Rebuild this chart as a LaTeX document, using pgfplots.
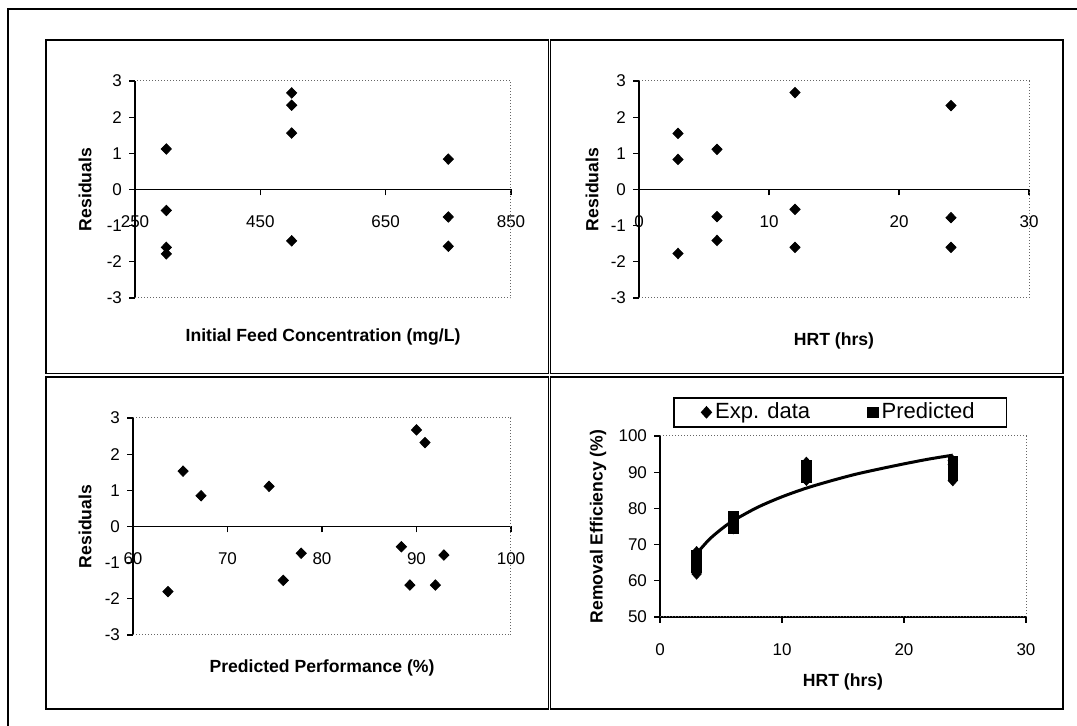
\documentclass[border=0pt]{standalone}
\usepackage{fontspec}
\setmainfont{Liberation Sans}
\usepackage{pgfplots}
\pgfplotsset{compat=1.18}

% 1 px of the reference = 0.5pt
\pgfplotsset{
  excel/.style={
    scale only axis,
    axis line style={line width=0.8pt},
    tick align=outside, major tick length=3pt,
    tick style={black, line width=0.6pt},
    hide obscured x ticks=false, hide obscured y ticks=false,
    /pgf/number format/assume math mode=true,
    ticklabel style={font=\fontsize{8.5}{9}\selectfont},
    clip=false,
  },
  resid/.style={
    excel, axis x line*=middle, axis y line*=left,
    ymin=-3, ymax=3, ytick={-3,-2,-1,0,1,2,3},
    xticklabel style={yshift=-6.5pt},
    height=108.5pt,
  },
  dia/.style={only marks, mark=diamond*, mark size=2.6pt, mark options={xscale=1.3, black}},
}
\newcommand{\plotframe}{\draw[black!60, densely dotted, line width=0.5pt]
  (rel axis cs:0,0) -- (rel axis cs:1,0) -- (rel axis cs:1,1) -- (rel axis cs:0,1);}
\tikzset{lab/.style={font=\fontsize{8.8}{10}\selectfont\bfseries}}

\begin{document}
\begin{tikzpicture}
\useasboundingbox (0,0) rectangle (538.5pt,363pt);

% frames
\draw[line width=0.8pt] (4pt,0) -- (4pt,358.5pt) -- (545pt,358.5pt);
\draw[line width=0.9pt] (23pt,176.25pt) rectangle (274.25pt,343pt);
\draw[line width=0.9pt] (275.25pt,176.25pt) rectangle (531.5pt,343pt);
\draw[line width=0.9pt] (23pt,8.5pt) rectangle (274.25pt,174.5pt);
\draw[line width=0.9pt] (275.25pt,8.5pt) rectangle (531.5pt,174.5pt);

% residuals vs feed concentration
\begin{axis}[resid, at={(67.5pt,214pt)}, anchor=south west, width=188pt,
  xmin=250, xmax=850, xtick={250,450,650,850}]
\plotframe
\addplot[dia] coordinates {
(300,1.12)(300,-0.58)(300,-1.60)(300,-1.78)
(500,2.67)(500,2.33)(500,1.56)(500,-1.42)
(750,0.84)(750,-0.76)(750,-1.57)
};
\end{axis}
\node[lab, rotate=90] at (42.5pt,268.25pt) {Residuals};
\node[lab] at (161.5pt,194.5pt) {Initial Feed Concentration (mg/L)};

% residuals vs HRT
\begin{axis}[resid, at={(319.5pt,214pt)}, anchor=south west, width=195pt,
  xmin=0, xmax=30, xtick={0,10,20,30}]
\plotframe
\addplot[dia] coordinates {
(3,1.55)(3,0.83)(3,-1.77)
(6,1.11)(6,-0.75)(6,-1.41)
(12,2.68)(12,-0.55)(12,-1.60)
(24,2.32)(24,-0.78)(24,-1.60)
};
\end{axis}
\node[lab, rotate=90] at (296pt,268.25pt) {Residuals};
\node[lab] at (417pt,192.5pt) {HRT (hrs)};

% residuals vs predicted performance
\begin{axis}[resid, at={(66.5pt,45.5pt)}, anchor=south west, width=189pt,
  xmin=60, xmax=100, xtick={60,70,80,90,100}]
\plotframe
\addplot[dia] coordinates {
(65.3,1.53)(67.2,0.85)(74.4,1.11)(63.7,-1.80)(75.9,-1.49)(77.8,-0.74)
(88.4,-0.56)(89.3,-1.62)(90.0,2.67)(90.9,2.32)(92.0,-1.62)(92.9,-0.79)
};
\end{axis}
\node[lab, rotate=90] at (42.5pt,99.75pt) {Residuals};
\node[lab] at (161pt,29pt) {Predicted Performance (\%)};

% removal efficiency vs HRT
\begin{axis}[excel, at={(330pt,54.5pt)}, anchor=south west, width=183pt, height=90.5pt,
  axis x line*=bottom, axis y line*=left,
  xmin=0, xmax=30, xtick={0,10,20,30},
  ymin=50, ymax=100, ytick={50,60,70,80,90,100},
  xticklabel style={yshift=-7pt},
  legend columns=2,
  legend image code/.code={\draw[#1] plot coordinates {(0pt,0pt)};},
  legend style={at={(axis description cs:0.0355,1.215)}, anchor=north west,
    draw=black, line width=0.8pt, font=\fontsize{11}{12}\selectfont,
    inner xsep=14pt, inner ysep=0.5pt,
    /tikz/every even column/.append style={column sep=27pt}},
  ]
\plotframe
\addplot[black, line width=1.5pt, smooth, forget plot] coordinates {
(3,67.5)(4,71.3)(5,74.2)(6,76.6)(8,80.3)(10,83.2)(12,85.6)
(14,87.6)(16,89.4)(18,90.9)(20,92.3)(22,93.6)(24,94.7)
};
\addplot[only marks, mark=diamond*, mark size=2.6pt, mark options={xscale=1.2, black}] coordinates {
(3,66.8)(3,68.0)(3,61.9)
(6,75.5)(6,77.1)(6,74.4)
(12,92.7)(12,87.8)(12,90.4)
(24,93.2)(24,92.1)(24,87.7)
};
\addlegendentry{Exp. data}
\addplot[only marks, mark=square*, mark size=2.4pt, mark options={black}] coordinates {
(3,65.3)(3,67.2)(3,63.7)
(6,74.4)(6,77.8)(6,75.9)
(12,90.0)(12,88.4)(12,92.0)
(24,90.9)(24,92.9)(24,89.3)
};
\addlegendentry{Predicted}
\end{axis}
\node[lab, rotate=90] at (299pt,99.75pt) {Removal Efficiency (\%)};
\node[lab] at (421.5pt,22pt) {HRT (hrs)};
\end{tikzpicture}
\end{document}
